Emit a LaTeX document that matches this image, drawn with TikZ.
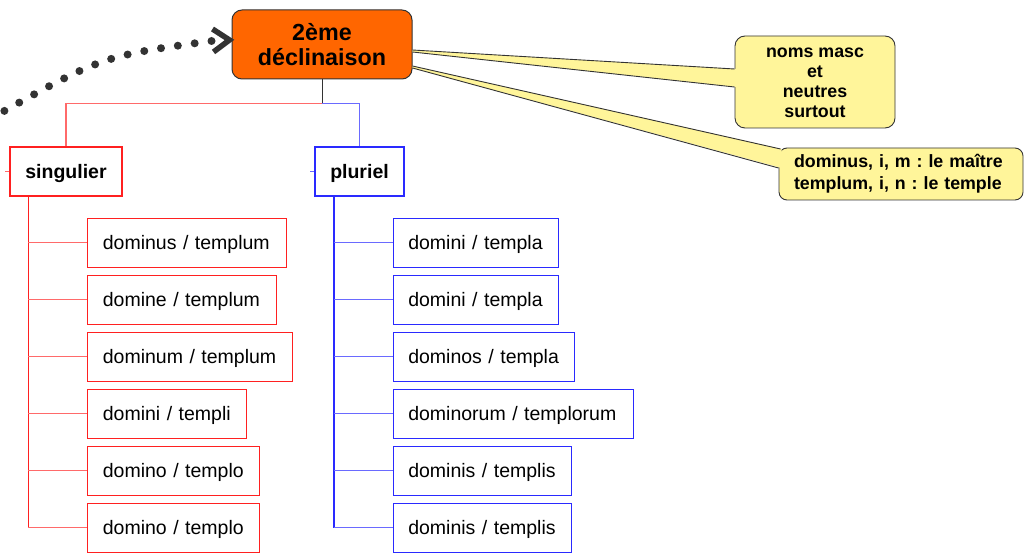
\documentclass[tikz,border=0pt]{standalone}
\usepackage{fontspec}
\setmainfont{Liberation Sans}
\usetikzlibrary{calc}
\definecolor{orng}{HTML}{FF6600}
\definecolor{dgray}{HTML}{333333}
\definecolor{cyel}{HTML}{FFF59A}
\definecolor{rline}{HTML}{FF6A6A}
\definecolor{bline}{HTML}{6A6AFF}
\definecolor{rbox}{HTML}{FF2020}
\definecolor{bbox}{HTML}{2A2AFF}
\frenchspacing
\begin{document}
\begin{tikzpicture}[x=1pt,y=-1pt,
  leaf/.style={draw, line width=1.1pt, anchor=west, align=left, inner xsep=15pt, inner ysep=0pt, text depth=0pt, minimum height=49pt, font=\fontsize{19.5}{23}\selectfont},
  rleaf/.style={leaf, draw=rbox},
  bleaf/.style={leaf, draw=bbox},
  cat/.style={draw, fill=white, line width=1.1pt, minimum height=49pt, inner sep=0pt, text depth=0pt, font=\bfseries\fontsize{19.5}{23}\selectfont},
  callout/.style={draw=dgray, fill=cyel, line width=0.9pt, rounded corners=10pt, inner sep=0pt},
  rl/.style={rline, line width=1.2pt},
  bl/.style={bline, line width=1.2pt},
  wedge/.style={dgray, line width=0.9pt},
  dots/.style={dgray, line width=8pt, line cap=round, dash pattern=on 0pt off 17pt}
]
\useasboundingbox (0,0) rectangle (1033,556);

% main node
\node[draw=dgray, fill=orng, line width=1pt, rounded corners=10pt, minimum width=180pt, minimum height=69pt, inner sep=0pt, align=center, font=\bfseries\fontsize{23.3}{25}\selectfont] (decl) at (322,44.5) {2ème\\déclinaison};

% dotted incoming connector
\coordinate (dotend) at ($(decl.west)+(-20,-3.5)$);
\coordinate (dotfree) at (-10,119);
\begin{scope}
\clip (0,0) rectangle (1033,556);
\draw[dots] (dotend) .. controls (102,56) .. (dotfree);
\end{scope}
\draw[dgray, line width=5.5pt, line join=miter] ($(decl.west)+(-19,-15.5)$) -- ($(decl.west)+(-2,-4.5)$) -- ($(decl.west)+(-18,7.5)$);

% callouts
\node[callout, minimum width=160pt, minimum height=92pt, text height=74pt, text depth=2pt, align=center, font=\bfseries\fontsize{17.8}{20}\selectfont] (c1) at (815,82) {noms masc\\et\\neutres\\surtout};
\node[callout, rounded corners=8pt, minimum width=244pt, minimum height=52pt, text width=214pt, inner xsep=15pt, align=left, font=\bfseries\fontsize{17.8}{22}\selectfont] (c2) at (901,174) {dominus, i, m : le maître\\templum, i, n : le temple};

% wedges
\fill[cyel] ($(decl.east)+(0,5.5)$) -- ($(c1.west |- 0,69)+(2,0)$) -- ($(c1.west |- 0,87)+(2,0)$) -- ($(decl.east)+(0,7.5)$) -- cycle;
\draw[wedge] ($(decl.east)+(0,5.5)$) -- (c1.west |- 0,69);
\draw[wedge] ($(decl.east)+(0,7.5)$) -- (c1.west |- 0,87);
\fill[cyel] ($(decl.east)+(0,21.5)$) -- ($(c2.west |- 0,149)+(3,0)$) -- ($(c2.west |- 0,168)+(3,0)$) -- ($(decl.east)+(0,23.5)$) -- cycle;
\draw[wedge] ($(decl.east)+(0,21.5)$) -- ($(c2.west |- 0,149)+(2,0)$);
\draw[wedge] ($(decl.east)+(0,23.5)$) -- (c2.west |- 0,168);

% categories
\node[cat, draw=rbox, minimum width=112pt] (sing) at (66,171.5) {singulier};
\node[cat, draw=bbox, minimum width=89pt] (plur) at (359.5,171.5) {pluriel};

\draw[dgray, line width=1pt] (decl.south) -- ++(0,24) coordinate (j);
\draw[rl] (j) -| (sing.north);
\draw[bl] (j) -| (plur.north);
\draw[rl] (sing.west) -- ++(-4,0);
\draw[bl] (plur.west) -- ++(-4,0);

% singular leaves
\node[rleaf, text width=169pt] (s1) at (87.3,242.8) {dominus / templum};
\node[rleaf, text width=158.7pt] (s2) at (87.3,299.8) {domine / templum};
\node[rleaf, text width=174.7pt] (s3) at (87.3,356.8) {dominum / templum};
\node[rleaf, text width=128.4pt] (s4) at (87.3,413.8) {domini / templi};
\node[rleaf, text width=141.4pt] (s5) at (87.3,470.8) {domino / templo};
\node[rleaf, text width=141.4pt] (s6) at (87.3,527.8) {domino / templo};

% plural leaves
\node[bleaf, text width=135.3pt] (p1) at (392.7,242.8) {domini / templa};
\node[bleaf, text width=135.3pt] (p2) at (392.7,299.8) {domini / templa};
\node[bleaf, text width=151.3pt] (p3) at (392.7,356.8) {dominos / templa};
\node[bleaf, text width=210.6pt] (p4) at (392.7,413.8) {dominorum / templorum};
\node[bleaf, text width=148.3pt] (p5) at (392.7,470.8) {dominis / templis};
\node[bleaf, text width=148.3pt] (p6) at (392.7,527.8) {dominis / templis};

% trunks
\coordinate (st) at ($(sing.south west)+(19,0)$);
\coordinate (pt) at ($(plur.south west)+(19.3,0)$);
\draw[rbox, line width=1.5pt] (st) -- (st |- s6.west);
\draw[bbox, line width=1.5pt] (pt) -- (pt |- p6.west);
\foreach \n in {s1,s2,s3,s4,s5,s6} \draw[rl] (st |- \n.west) -- (\n.west);
\foreach \n in {p1,p2,p3,p4,p5,p6} \draw[bl] (pt |- \n.west) -- (\n.west);
\end{tikzpicture}
\end{document}
